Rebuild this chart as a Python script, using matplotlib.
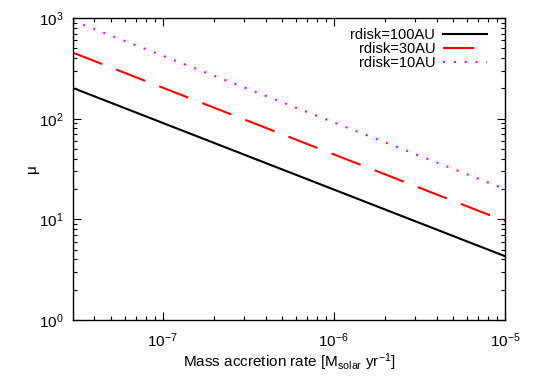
import matplotlib
matplotlib.use("Agg")
import matplotlib.pyplot as plt

plt.rcParams['font.family'] = ['Liberation Sans', 'DejaVu Sans']
plt.rcParams['mathtext.fontset'] = 'custom'
plt.rcParams['mathtext.rm'] = 'Liberation Sans'
plt.rcParams['mathtext.it'] = 'Liberation Sans'

# accretion rate end points (straight lines in log-log)
mdot = [3e-8, 1e-5]
mu_100au = [202, 4.3]
mu_30au = [453, 9.6]
mu_10au = [940, 20]
labels = ['rdisk=100AU', 'rdisk=30AU', 'rdisk=10AU']

fig = plt.figure(figsize=(5.5, 3.85), dpi=100)
ax = fig.add_axes([0.1327, 0.169, 0.7855, 0.784])

ax.plot(mdot, mu_100au, color='black', lw=1.5, label=labels[0])
ax.plot(mdot, mu_30au, color='red', lw=1.5, dashes=(15, 7.2), label=labels[1])
ax.plot(mdot, mu_10au, color='magenta', lw=1.5, dashes=(1, 4.2), label=labels[2])

ax.set_xscale('log')
ax.set_yscale('log')
ax.set_xlim(3e-8, 1e-5)
ax.set_ylim(1, 1000)

ax.tick_params(which='both', direction='in', top=True, right=True, labelsize=11)
ax.tick_params(which='major', length=6, width=0.8)
ax.tick_params(which='minor', length=3, width=0.8)
ax.tick_params(axis='x', which='major', pad=8)
ax.tick_params(axis='y', which='major', pad=7)
for s in ax.spines.values():
    s.set_linewidth(1.0)

ax.set_xlabel('Mass accretion rate [M$_{solar}$ yr$^{-1}$]', fontsize=11, labelpad=1)
ax.set_ylabel('μ', fontsize=11, labelpad=0)

ax.legend(loc='upper right', bbox_to_anchor=(0.972, 0.985), frameon=False,
          markerfirst=False, fontsize=10.5, handlelength=3.0, labelspacing=0.0,
          borderaxespad=0.0, handletextpad=0.55)

fig.savefig('out.png', dpi=100)
